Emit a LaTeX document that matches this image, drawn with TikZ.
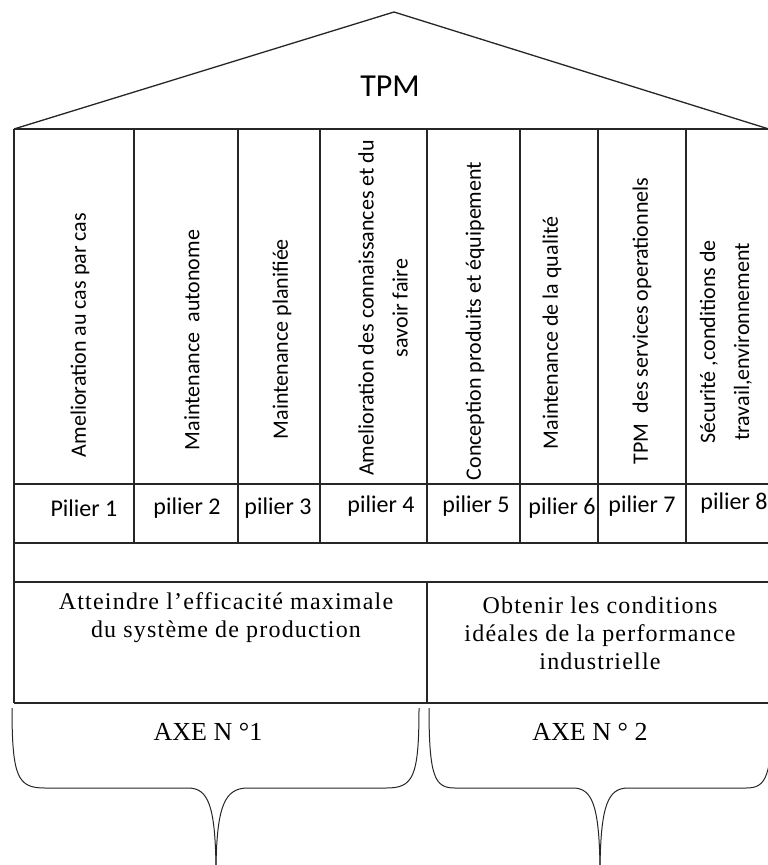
\documentclass[tikz,border=0pt]{standalone}
\usepackage{fontspec}
\setmainfont{Liberation Serif}
\newfontfamily\calibri{Carlito}
\newfontfamily\wordserif[LetterSpace=5]{Liberation Serif}
\usepackage{tikz}
\usetikzlibrary{positioning}

\begin{document}
\begin{tikzpicture}[x=1pt, y=-1pt,
            frame/.style={draw=black!85, line width=1.3pt},
            pillar/.style={rotate=90, font=\calibri\fontsize{22}{34}\selectfont, align=center, inner sep=0pt},
            tag/.style={font=\calibri\fontsize{24}{28}\selectfont, inner sep=0pt},
            goal/.style={font=\wordserif\fontsize{24}{28}\selectfont, align=center, inner sep=0pt},
            axe/.style={font=\fontsize{26}{30}\selectfont, inner sep=0pt}
        ]
            \useasboundingbox (0,0) rectangle (768,865);
            \clip (0,0) rectangle (768,865);

            % toit
            \draw[frame] (14,129) -- (394,12) -- (772,130);
            \node[font=\calibri\fontsize{32}{36}\selectfont] (tpm) at (390,86) {TPM};

            % cadre et colonnes
            \draw[frame] (14,129) -- (772,129);
            \draw[frame] (14,129) -- (14,703);
            \foreach \x in {134,238,320,427,520,598,686}
                \draw[frame] (\x,129) -- (\x,543);
            \draw[frame] (14,484) -- (772,484);
            \draw[frame] (14,543) -- (772,543);
            \draw[frame] (14,582) -- (772,582);
            \draw[frame] (14,703) -- (772,703);
            \draw[frame] (427,582) -- (427,703);

            \node[pillar] (c1) at (80,335) {Amelioration au cas par cas};
            \node[pillar] (c2) at (192,340) {Maintenance\ \ autonome};
            \node[pillar] (c3) at (282,339) {Maintenance planifiée};
            \node[pillar] (c4) at (383,308) {Amelioration des connaissances et du\\savoir faire};
            \node[pillar] (c5) at (475,321) {Conception produits et équipement};
            \node[pillar] (c6) at (552,333) {Maintenance de la qualité};
            \node[pillar] (c7) at (642,321) {TPM\ \ des services operationnels};
            \node[pillar] (c8) at (726,342) {Sécurité ,conditions de\\travail,environnement};

            \node[tag] (p1) at (84,508) {Pilier 1};
            \node[tag] (p2) at (187,508) {pilier 2};
            \node[tag] (p3) at (278,508) {pilier 3};
            \node[tag] (p4) at (381,506) {pilier 4};
            \node[tag] (p5) at (476,506) {pilier 5};
            \node[tag] (p6) at (562,508) {pilier 6};
            \node[tag] (p7) at (642,506) {pilier 7};
            \node[tag] (p8) at (734,503) {pilier 8};

            \node[goal] (g1) at (226,618) {Atteindre l’efficacité maximale\\du système de production};
            \node[goal] (g2) at (600,633) {Obtenir les conditions\\idéales de la performance\\industrielle};

            % accolades
            \draw[frame, line width=1pt] (12,708) .. controls (12,778) and (18,788) .. (45,788) -- (188,788)
                .. controls (208,788) and (215,805) .. (216,866);
            \draw[frame, line width=1pt] (419,708) .. controls (419,778) and (413,788) .. (386,788) -- (248,788)
                .. controls (225,788) and (217,805) .. (216,866);
            \draw[frame, line width=1pt] (429,708) .. controls (429,778) and (435,788) .. (455,788) -- (573,788)
                .. controls (592,788) and (599,805) .. (600,866);
            \draw[frame, line width=1pt] (772,708) .. controls (772,778) and (766,788) .. (746,788) -- (628,788)
                .. controls (608,788) and (601,805) .. (600,866);

            \node[axe] (a1) at (208,732) {AXE N °1};
            \node[axe] (a2) at (590,732) {AXE N ° 2};
        \end{tikzpicture}
\end{document}
